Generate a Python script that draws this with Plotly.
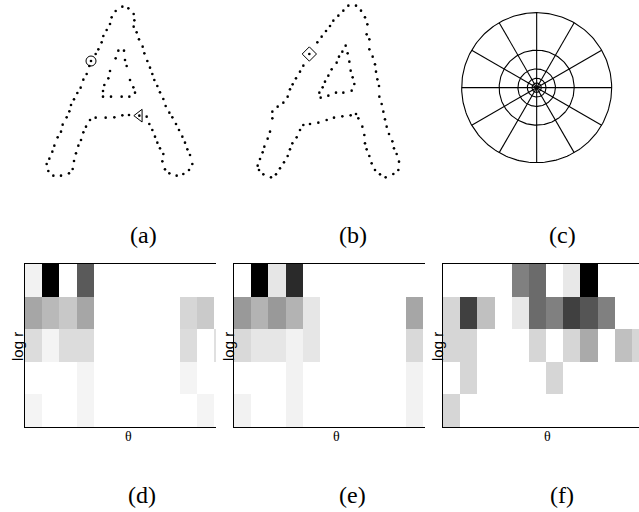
import numpy as np
import plotly.graph_objects as go

W, H = 639, 512

# ---------------- data: sampled contour points of letter "A" (zoom units) -------------
a_x = [347,335,330,320,310,305,295,287,273,268,260,250,242,232,222,213,208,200,188,183,173,163,157,148,140,
       145,160,183,207,218,222,228,235,243,250,258,270,287,317,343,367,387,418,440,448,457,465,472,480,490,
       487,495,508,530,550,567,577,570,562,555,547,537,528,517,508,497,490,480,472,463,457,450,442,433,428,
       417,410,401,403,401,385,367,
       355,372,347,375,330,380,325,390,313,400,309,405,309,333,365,388]
a_y = [33,52,72,90,108,127,148,162,183,198,222,239,263,279,298,315,334,352,374,395,412,437,455,476,492,
       513,527,527,520,507,483,460,437,420,397,380,360,353,353,352,346,345,347,350,372,390,410,428,445,462,
       484,508,520,527,522,510,492,465,448,428,410,390,372,352,338,318,297,277,258,240,222,203,183,160,140,
       118,97,80,61,42,25,20,
       152,152,175,180,213,198,235,240,255,262,273,278,290,290,290,290]

b_x = [385,408,370,423,355,435,340,442,330,440,318,448,305,448,292,458,268,250,240,465,228,468,218,472,210,
       477,203,478,190,485,173,490,157,495,157,500,150,507,143,517,133,522,128,530,120,537,113,535,117,520,
       130,497,153,480,168,465,180,455,192,448,203,440,210,435,217,433,230,427,240,415,408,250,270,295,320,
       342,367,392,
       377,367,383,357,388,350,335,392,325,398,315,403,308,395,298,370,348,325,302]
b_y = [17,17,32,32,47,52,62,73,78,103,93,118,110,148,127,170,162,197,215,193,235,215,253,238,268,
       258,290,290,308,312,320,335,335,358,355,380,395,402,416,424,440,445,457,462,477,485,497,510,510,522,
       523,532,532,523,523,510,505,490,487,468,468,448,448,430,430,405,412,380,390,355,342,375,372,368,360,
       353,349,346,
       137,155,160,170,185,188,208,212,227,232,245,252,262,272,278,278,278,287,293]

# highlighted sample points
a_circle = (273, 183)
a_triangle = (418, 347)
b_diamond = (268, 162)

# ---------------- log-polar bins ----------------
lp_center = (350, 263)
lp_radii = [225, 112.5, 56.25, 28.1, 14.1]
lp_sectors = 12

# ---------------- histograms (gray level, 255 = white), 5 log r rows x 12 theta cols --------
hist_d = [
    [242,   0, 255,  90, 255, 255, 255, 255, 255, 255, 255, 255],
    [166, 185, 200, 166, 255, 255, 255, 255, 255, 214, 202, 255],
    [220, 244, 220, 220, 255, 255, 255, 255, 255, 220, 255, 224],
    [255, 255, 255, 244, 255, 255, 255, 255, 255, 244, 255, 255],
    [244, 255, 255, 244, 255, 255, 255, 255, 255, 255, 244, 255],
]
hist_e = [
    [255,   0, 230,  42, 255, 255, 255, 255, 255, 255, 255, 255],
    [153, 179, 153, 179, 230, 255, 255, 255, 255, 255, 166, 255],
    [217, 230, 230, 242, 230, 255, 255, 255, 255, 255, 217, 255],
    [255, 255, 255, 242, 255, 255, 255, 255, 255, 255, 242, 255],
    [242, 255, 255, 242, 255, 255, 255, 255, 255, 255, 242, 255],
]
hist_f = [
    [255, 255, 255, 255, 128, 107, 255, 232,   0, 255, 255, 255],
    [214,  64, 192, 255, 232, 107, 128,  64,  85, 128, 255, 255],
    [214, 214, 255, 255, 255, 214, 255, 214, 170, 255, 192, 214],
    [255, 214, 255, 255, 255, 255, 214, 255, 255, 255, 255, 255],
    [214, 255, 255, 255, 255, 255, 255, 255, 255, 255, 255, 255],
]

panel_labels = ["(a)", "(b)", "(c)", "(d)", "(e)", "(f)"]

# ---------------- figure ----------------
fig = go.Figure()

def px(x):
    return x / W

def py(y):
    return 1 - y / H

hidden = dict(visible=False, showgrid=False, zeroline=False)

# panel (a)
fig.add_trace(go.Scatter(x=a_x, y=a_y, mode="markers", marker=dict(size=2.6, color="black"),
                         xaxis="x", yaxis="y", hoverinfo="skip", cliponaxis=False))
fig.add_trace(go.Scatter(x=[a_circle[0]], y=[a_circle[1]], mode="markers",
                         marker=dict(symbol="circle-open", size=10, color="black", line=dict(width=1)),
                         xaxis="x", yaxis="y"))
fig.add_trace(go.Scatter(x=[a_triangle[0]], y=[a_triangle[1]], mode="markers",
                         marker=dict(symbol="triangle-left-open", size=11, color="black", line=dict(width=1)),
                         xaxis="x", yaxis="y"))
# panel (b)
fig.add_trace(go.Scatter(x=b_x, y=b_y, mode="markers", marker=dict(size=2.6, color="black"),
                         xaxis="x2", yaxis="y2", hoverinfo="skip", cliponaxis=False))
fig.add_trace(go.Scatter(x=[b_diamond[0]], y=[b_diamond[1]], mode="markers",
                         marker=dict(symbol="diamond-open", size=11, color="black", line=dict(width=1)),
                         xaxis="x2", yaxis="y2"))

# panel (c): log-polar grid
cx, cy = lp_center
t = np.linspace(0, 2 * np.pi, 241)
for r in lp_radii:
    fig.add_trace(go.Scatter(x=cx + r * np.cos(t), y=cy + r * np.sin(t), mode="lines",
                             line=dict(color="black", width=1.1), xaxis="x3", yaxis="y3",
                             hoverinfo="skip", cliponaxis=False))
rmax = max(lp_radii)
for k in range(lp_sectors):
    ang = 2 * np.pi * k / lp_sectors
    fig.add_trace(go.Scatter(x=[cx, cx + rmax * np.cos(ang)], y=[cy, cy + rmax * np.sin(ang)],
                             mode="lines", line=dict(color="black", width=1.1),
                             xaxis="x3", yaxis="y3", hoverinfo="skip", cliponaxis=False))

# heatmaps
for i, (hist, xa, ya) in enumerate([(hist_d, "x4", "y4"), (hist_e, "x5", "y5"), (hist_f, "x6", "y6")]):
    fig.add_trace(go.Heatmap(z=hist, x=list(range(12)), y=list(range(5)),
                             colorscale=[[0, "black"], [1, "white"]], zmin=0, zmax=255,
                             showscale=False, xaxis=xa, yaxis=ya, hoverinfo="skip"))

layout = dict(width=W, height=H, margin=dict(l=0, r=0, t=0, b=0),
              paper_bgcolor="white", plot_bgcolor="white", showlegend=False)

# top row axes (zoom units = 3 px)
layout["xaxis"] = dict(domain=[px(0), px(220)], range=[0, 660], **hidden)
layout["yaxis"] = dict(domain=[py(200), py(0)], range=[600, 0], **hidden)
layout["xaxis2"] = dict(domain=[px(220), px(420)], range=[0, 600], **hidden)
layout["yaxis2"] = dict(domain=[py(200), py(0)], range=[600, 0], **hidden)
layout["xaxis3"] = dict(domain=[px(420), px(639)], range=[0, 657], **hidden)
layout["yaxis3"] = dict(domain=[py(200), py(0)], range=[600, 0], **hidden)

cell = 17.2
panels = [(25, 216), (234, 425), (443, 639)]
for j, (x0, x1) in enumerate(panels):
    n = 4 + j
    layout[f"xaxis{n}"] = dict(domain=[px(x0), px(x1)], range=[-0.5, -0.5 + (x1 - x0) / cell],
                               showline=True, mirror=True, linecolor="black", linewidth=1.3,
                               showticklabels=False, ticks="", showgrid=False, zeroline=False,
                               anchor=f"y{n}")
    layout[f"yaxis{n}"] = dict(domain=[py(427), py(264)], range=[4.5, -0.5],
                               showline=True, mirror=False, linecolor="black", linewidth=1.3,
                               showticklabels=False, ticks="", showgrid=False, zeroline=False,
                               anchor=f"x{n}")

ann = []
label_pos = [(143, 235), (353, 235), (562, 235), (142, 495), (352, 495), (562, 495)]
for lab, (x, y) in zip(panel_labels, label_pos):
    ann.append(dict(text=lab, x=px(x), y=py(y), xref="paper", yref="paper", showarrow=False,
                    font=dict(family="Liberation Serif", size=24, color="black"),
                    xanchor="center", yanchor="middle"))
for x in [128, 337, 547]:
    ann.append(dict(text="θ", x=px(x), y=py(436), xref="paper", yref="paper", showarrow=False,
                    font=dict(family="Liberation Serif", size=14, color="black"),
                    xanchor="center", yanchor="middle"))
for x in [17, 228, 437]:
    ann.append(dict(text="log r", x=px(x), y=py(347), xref="paper", yref="paper", showarrow=False,
                    textangle=-90, font=dict(family="Liberation Sans", size=15, color="black"),
                    xanchor="center", yanchor="middle"))
layout["annotations"] = ann

fig.update_layout(**layout)
fig.write_html("out.html", config={"displayModeBar": False},
               post_script="document.body.style.margin='0';document.body.style.overflow='hidden';")
